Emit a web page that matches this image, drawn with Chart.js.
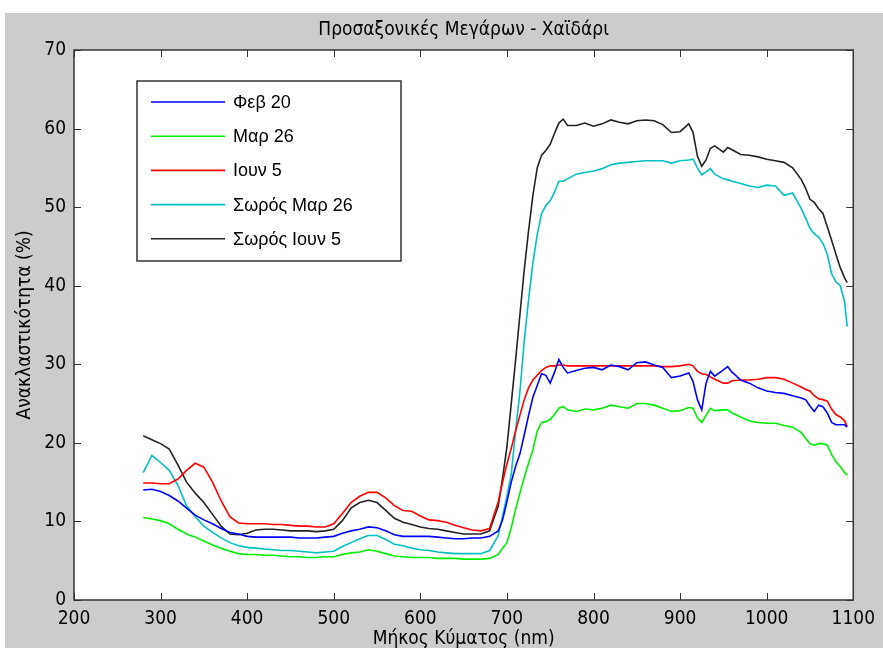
<!DOCTYPE html>
<html><head><meta charset="utf-8">
<script src="https://cdn.jsdelivr.net/npm/chart.js@4.4.1/dist/chart.umd.min.js"></script>
<style>html,body{margin:0;padding:0;background:#fff;}#wrap{width:883px;height:648px;}</style>
</head><body><div id="wrap"><canvas id="c" width="883" height="648"></canvas></div>
<script>
const chartTitle = "Προσαξονικές Μεγάρων - Χαϊδάρι";
const xTitle = "Μήκος Κύματος (nm)";
const yTitle = "Ανακλαστικότητα (%)";
const seriesNames = ["Φεβ 20", "Μαρ 26", "Ιουν 5", "Σωρός Μαρ 26", "Σωρός Ιουν 5"];
const seriesColors = ["#0000ff", "#00ee00", "#ff0000", "#00c0c0", "#222222"];
const xTicks = [200, 300, 400, 500, 600, 700, 800, 900, 1000, 1100];
const yTicks = [0, 10, 20, 30, 40, 50, 60, 70];

const wavelengths = [280,290,300,310,320,330,340,350,360,370,380,390,400,410,420,430,440,450,460,470,480,490,500,510,520,530,540,550,560,570,580,590,600,610,620,630,640,650,660,670,680,690,695,700,705,710,715,720,725,730,735,740,745,750,755,760,765,770,780,790,800,810,820,830,840,850,860,870,880,890,900,910,915,920,925,930,935,940,950,955,960,970,980,990,1000,1010,1020,1030,1040,1045,1050,1055,1060,1065,1070,1075,1080,1085,1090,1093];

const feb20 = [14.0,14.1,13.8,13.3,12.6,11.7,10.8,10.2,9.7,9.1,8.6,8.4,8.1,8.0,8.0,8.0,8.0,8.0,7.9,7.9,7.9,8.0,8.1,8.5,8.8,9.0,9.3,9.2,8.8,8.3,8.1,8.1,8.1,8.1,8.0,7.9,7.8,7.8,7.9,7.9,8.1,8.8,10.2,12.5,15.0,17.0,18.6,21.0,23.5,25.8,27.3,28.8,28.6,27.6,29.0,30.6,29.6,28.9,29.2,29.5,29.6,29.3,29.9,29.7,29.3,30.2,30.3,29.9,29.6,28.3,28.5,28.9,27.8,25.5,24.2,27.6,29.1,28.5,29.3,29.7,29.0,28.0,27.6,27.0,26.6,26.4,26.3,26.0,25.7,25.5,24.7,24.0,24.8,24.6,23.8,22.6,22.3,22.3,22.3,22.0];

const mar26 = [10.5,10.3,10.1,9.7,9.0,8.4,8.0,7.5,7.0,6.6,6.2,5.9,5.8,5.8,5.7,5.7,5.6,5.5,5.5,5.4,5.4,5.5,5.5,5.8,6.0,6.1,6.4,6.2,5.9,5.6,5.5,5.4,5.4,5.4,5.3,5.3,5.3,5.2,5.2,5.2,5.3,5.8,6.6,7.3,9.2,11.5,13.6,15.6,17.4,19.1,21.5,22.6,22.7,23.0,23.6,24.4,24.6,24.2,24.0,24.3,24.2,24.4,24.8,24.6,24.4,25.0,25.0,24.8,24.4,24.0,24.1,24.5,24.4,23.2,22.6,23.5,24.4,24.1,24.2,24.2,23.8,23.3,22.8,22.6,22.5,22.5,22.2,22.0,21.3,20.6,19.9,19.7,19.9,19.9,19.7,18.5,17.6,17.0,16.2,15.9];

const jun5 = [14.9,14.9,14.8,14.8,15.4,16.5,17.4,16.9,15.0,12.6,10.6,9.8,9.7,9.7,9.7,9.6,9.6,9.5,9.4,9.4,9.3,9.3,9.7,11.0,12.4,13.2,13.7,13.7,13.0,12.0,11.4,11.3,10.7,10.2,10.1,9.9,9.5,9.2,8.9,8.8,9.1,12.5,15.0,17.3,19.3,21.5,23.5,25.5,27.0,28.0,28.6,29.2,29.6,29.8,29.8,29.9,29.9,29.8,29.8,29.8,29.8,29.8,29.8,29.8,29.8,29.8,29.8,29.8,29.7,29.7,29.8,30.0,29.8,29.1,28.8,28.7,28.4,28.1,27.6,27.6,27.9,28.0,28.0,28.1,28.3,28.3,28.1,27.6,27.1,26.8,26.6,26.0,25.6,25.5,25.3,24.3,23.6,23.3,22.8,22.1];

const pileMar26 = [16.2,18.4,17.5,16.5,14.6,12.0,10.6,9.4,8.6,7.9,7.3,6.9,6.7,6.6,6.5,6.4,6.3,6.3,6.2,6.1,6.0,6.1,6.2,6.8,7.3,7.8,8.2,8.2,7.7,7.1,6.9,6.6,6.4,6.3,6.1,6.0,5.9,5.9,5.9,5.9,6.3,8.2,10.7,13.2,16.0,21.5,26.5,33.0,38.2,42.9,46.5,49.2,50.2,50.8,51.9,53.3,53.3,53.6,54.2,54.4,54.6,54.9,55.4,55.6,55.7,55.8,55.9,55.9,55.9,55.6,55.9,56.0,56.1,55.0,54.1,54.5,54.9,54.2,53.6,53.5,53.3,53.0,52.7,52.5,52.8,52.7,51.5,51.8,49.8,48.6,47.3,46.6,46.2,45.4,44.0,41.5,40.5,40.0,38.0,34.8];

const pileJun5 = [20.9,20.4,19.9,19.2,17.2,15.0,13.6,12.4,10.9,9.4,8.4,8.3,8.5,8.9,9.0,9.0,8.9,8.8,8.8,8.8,8.7,8.8,9.0,10.1,11.7,12.4,12.7,12.4,11.4,10.4,9.9,9.6,9.3,9.1,9.0,8.8,8.6,8.4,8.4,8.4,8.8,12.0,15.5,19.5,25.0,30.5,36.3,42.0,47.0,51.5,55.0,56.6,57.2,58.0,59.4,60.7,61.2,60.4,60.4,60.7,60.3,60.6,61.1,60.8,60.6,61.0,61.1,61.0,60.5,59.5,59.6,60.6,59.5,56.5,55.2,56.0,57.5,57.8,57.0,57.6,57.3,56.7,56.6,56.4,56.1,55.9,55.7,55.0,53.5,52.4,51.0,50.6,49.8,49.2,47.5,45.8,44.0,42.3,41.0,40.4];

const allSeries = [feb20, mar26, jun5, pileMar26, pileJun5];
const NARROW = '"DejaVu Sans Condensed", "Liberation Sans Narrow", "Liberation Sans", Arial, sans-serif';
const REG = '"Liberation Sans", Arial, sans-serif';

const datasets = allSeries.map((s, k) => ({
  label: seriesNames[k],
  data: wavelengths.map((w, i) => ({x: w, y: s[i]})),
  borderColor: seriesColors[k],
  backgroundColor: seriesColors[k],
  borderWidth: 1.6,
  pointRadius: 0,
  tension: 0,
  fill: false
}));

const decor = {
  id: 'decor',
  beforeDraw(chart) {
    const ctx = chart.ctx, a = chart.chartArea;
    ctx.save();
    ctx.fillStyle = '#ffffff';
    ctx.fillRect(0, 0, chart.width, chart.height);
    ctx.fillStyle = '#cccccc';
    ctx.fillRect(5, 13, chart.width - 5, chart.height - 13);
    ctx.fillStyle = '#ffffff';
    ctx.fillRect(a.left, a.top, a.right - a.left, a.bottom - a.top);
    ctx.restore();
  },
  afterDatasetsDraw(chart) {
    const ctx = chart.ctx, a = chart.chartArea;
    const xs = chart.scales.x, ys = chart.scales.y;
    ctx.save();
    ctx.strokeStyle = '#333333';
    ctx.lineWidth = 1.5;
    ctx.strokeRect(a.left, a.top, a.right - a.left, a.bottom - a.top);
    ctx.lineWidth = 1;
    const tl = 7;
    ctx.beginPath();
    xTicks.forEach(v => {
      const p = Math.round(xs.getPixelForValue(v)) + 0.5;
      ctx.moveTo(p, a.bottom); ctx.lineTo(p, a.bottom - tl);
      ctx.moveTo(p, a.top); ctx.lineTo(p, a.top + tl);
    });
    yTicks.forEach(v => {
      const p = Math.round(ys.getPixelForValue(v)) + 0.5;
      ctx.moveTo(a.left, p); ctx.lineTo(a.left + tl, p);
      ctx.moveTo(a.right, p); ctx.lineTo(a.right - tl, p);
    });
    ctx.stroke();
    ctx.restore();
  },
  afterDraw(chart) {
    const ctx = chart.ctx, a = chart.chartArea;
    ctx.save();
    ctx.fillStyle = '#000000';
    ctx.font = '19px ' + NARROW;
    ctx.textAlign = 'center';
    ctx.textBaseline = 'middle';
    const cx = (a.left + a.right) / 2;
    ctx.fillText(chartTitle, cx, 30);
    ctx.fillText(xTitle, cx, 639);
    ctx.save();
    ctx.translate(25, (a.top + a.bottom) / 2);
    ctx.rotate(-Math.PI / 2);
    ctx.fillText(yTitle, 0, 0);
    ctx.restore();
    const bx = 137, by = 81, bw = 264, bh = 180;
    ctx.fillStyle = '#ffffff';
    ctx.fillRect(bx, by, bw, bh);
    ctx.strokeStyle = '#333333';
    ctx.lineWidth = 1.5;
    ctx.strokeRect(bx, by, bw, bh);
    ctx.font = '18px ' + REG;
    ctx.textAlign = 'left';
    ctx.textBaseline = 'middle';
    chart.data.datasets.forEach((d, i) => {
      const y = 102 + i * 34.2;
      ctx.strokeStyle = d.borderColor;
      ctx.lineWidth = 1.6;
      ctx.beginPath();
      ctx.moveTo(151, y); ctx.lineTo(225, y);
      ctx.stroke();
      ctx.fillStyle = '#000000';
      ctx.fillText(d.label, 233, y + 1);
    });
    ctx.restore();
  }
};

new Chart(document.getElementById('c'), {
  type: 'line',
  data: { datasets },
  options: {
    responsive: false,
    animation: false,
    devicePixelRatio: 1,
    layout: { padding: { top: 50, right: 18, left: 0, bottom: 0 } },
    plugins: { legend: { display: false }, title: { display: false }, tooltip: { enabled: false } },
    scales: {
      x: {
        type: 'linear', min: 200, max: 1100,
        afterBuildTicks: s => { s.ticks = xTicks.map(v => ({ value: v })); },
        afterFit: s => { s.height = 48; },
        grid: { display: false, drawTicks: false },
        border: { display: false },
        ticks: { color: '#000', padding: 8, maxRotation: 0, autoSkip: false, callback: v => String(v), font: { family: NARROW, size: 19 } }
      },
      y: {
        type: 'linear', min: 0, max: 70,
        afterBuildTicks: s => { s.ticks = yTicks.map(v => ({ value: v })); },
        afterFit: s => { s.width = 74; },
        grid: { display: false, drawTicks: false },
        border: { display: false },
        ticks: { color: '#000', padding: 8, autoSkip: false, callback: v => String(v), font: { family: NARROW, size: 19 } }
      }
    }
  },
  plugins: [decor]
});
</script></body></html>
